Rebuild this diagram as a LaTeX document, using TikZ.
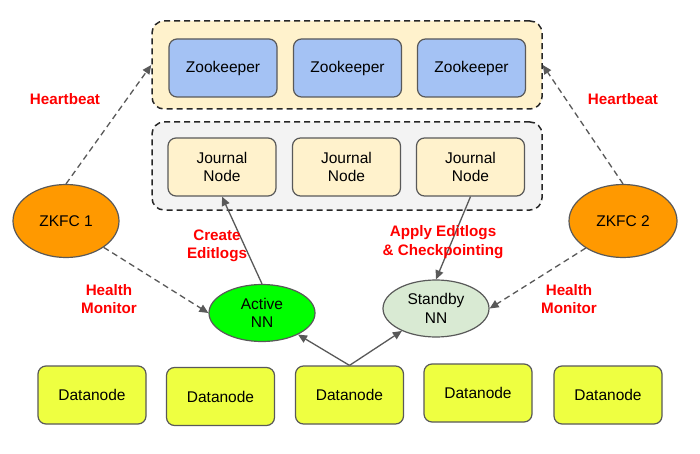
\documentclass[tikz,border=0pt]{standalone}
\usepackage{fontspec}
\setmainfont{Liberation Sans}
\usetikzlibrary{shapes.geometric,arrows.meta}
\definecolor{zkblue}{HTML}{A4C2F4}
\definecolor{cream}{HTML}{FFF2CC}
\definecolor{lgray}{HTML}{F3F3F3}
\definecolor{dnyellow}{HTML}{EEFF41}
\definecolor{zkorange}{HTML}{FF9900}
\definecolor{actgreen}{HTML}{00FF00}
\definecolor{sbgreen}{HTML}{D9EAD3}
\definecolor{edge}{HTML}{595959}
\definecolor{lblred}{HTML}{FF0000}
\tikzset{
  txt/.style={font=\fontsize{15.5}{18.5}\selectfont, align=center, text=black},
  boxnode/.style={txt, draw=edge, line width=1.2pt, rounded corners=8pt, minimum width=108pt, minimum height=58pt, inner sep=0pt},
  container/.style={draw=black!85, line width=1.5pt, dash pattern=on 6pt off 4pt, rounded corners=12pt, minimum width=390pt, minimum height=88pt, inner sep=0pt},
  ellnode/.style={txt, ellipse, draw=edge, line width=1.2pt, inner sep=0pt},
  lbl/.style={font=\bfseries\fontsize{15.2}{18.5}\selectfont, align=center, text=lblred},
  solidarrow/.style={draw=edge, line width=1.3pt, -{Triangle[length=9pt,width=8pt]}},
  dasharrow/.style={draw=edge, line width=1.3pt, dash pattern=on 6pt off 4pt, -{Triangle[length=9pt,width=8pt]}}
}
\begin{document}
\begin{tikzpicture}[x=1pt,y=-1pt]
\useasboundingbox[fill=white] (0,0) rectangle (700,454);
% containers
\node[container, fill=cream] (zoo) at (347,65) {};
\node[container, fill=lgray] (jnc) at (347,166) {};
% zookeepers
\node[boxnode, fill=zkblue] (zk1) at (223,68) {Zookeeper};
\node[boxnode, fill=zkblue] (zk2) at (347.5,68) {Zookeeper};
\node[boxnode, fill=zkblue] (zk3) at (471.5,68) {Zookeeper};
% journal nodes
\node[boxnode, fill=cream] (jn1) at (222,167) {Journal\\Node};
\node[boxnode, fill=cream] (jn2) at (346.5,167) {Journal\\Node};
\node[boxnode, fill=cream] (jn3) at (470.5,167) {Journal\\Node};
% ZKFC
\node[ellnode, fill=zkorange, minimum width=106pt, minimum height=73pt] (zkfc1) at (66,221) {ZKFC 1};
\node[ellnode, fill=zkorange, minimum width=108pt, minimum height=73pt] (zkfc2) at (623,221) {ZKFC 2};
% name nodes
\node[ellnode, fill=actgreen, minimum width=106pt, minimum height=57pt] (active) at (262,313) {Active\\NN};
\node[ellnode, fill=sbgreen, minimum width=106pt, minimum height=57pt] (standby) at (436,308.5) {Standby\\NN};
% datanodes
\node[boxnode, fill=dnyellow] (dn1) at (92,395) {Datanode};
\node[boxnode, fill=dnyellow] (dn2) at (220.5,396.5) {Datanode};
\node[boxnode, fill=dnyellow] (dn3) at (349.5,395) {Datanode};
\node[boxnode, fill=dnyellow] (dn4) at (478,393) {Datanode};
\node[boxnode, fill=dnyellow] (dn5) at (608,395) {Datanode};
% connectors
\draw[solidarrow] (dn3.north) -- (active);
\draw[solidarrow] (dn3.north) -- (standby);
\draw[solidarrow] (active.north) -- (jn1.south);
\draw[solidarrow] (jn3.south) -- (standby.north);
\draw[dasharrow] (zkfc1.north) -- (zoo.west);
\draw[dasharrow] (zkfc2.north) -- (zoo.east);
\draw[dasharrow] (zkfc1.-35) -- (active.west);
\draw[dasharrow] (zkfc2.-144) -- (standby.east);
% labels
\node[lbl] (hb1) at (65,99) {Heartbeat};
\node[lbl] (hb2) at (623,99) {Heartbeat};
\node[lbl] (hm1) at (109,299) {Health\\Monitor};
\node[lbl] (hm2) at (569,299) {Health\\Monitor};
\node[lbl] (ce) at (217,246) {Create\\Editlogs};
\node[lbl] (ae) at (443,242) {Apply Editlogs\\\& Checkpointing};
\end{tikzpicture}
\end{document}
